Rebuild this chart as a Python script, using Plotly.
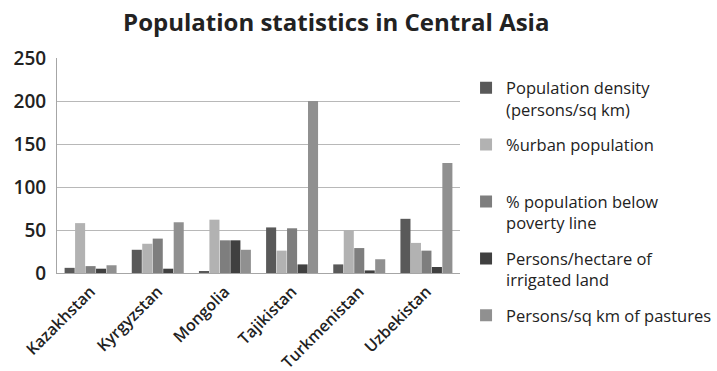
import plotly.graph_objects as go

countries = ["Kazakhstan", "Kyrgyzstan", "Mongolia", "Tajikistan", "Turkmenistan", "Uzbekistan"]
pop_density = [6, 27, 2, 53, 10, 63]
urban_pct = [58, 34, 62, 26, 50, 35]
poverty_pct = [8, 40, 38, 52, 29, 26]
irrigated = [5, 5, 38, 10, 3, 7]
pastures = [9, 59, 27, 200, 16, 128]

series_names = [
    "Population density<br>(persons/sq km)",
    "%urban population<br> ",
    "% population below<br>poverty line",
    "Persons/hectare of<br>irrigated land",
    "Persons/sq km of pastures",
]
series_values = [pop_density, urban_pct, poverty_pct, irrigated, pastures]
colors = ["#595959", "#b2b2b2", "#7e7e7e", "#404040", "#909090"]

FONT = "Open Sans"
TXT = "#222222"

fig = go.Figure()
for i, (name, vals, col) in enumerate(zip(series_names, series_values, colors)):
    fig.add_trace(go.Bar(x=countries, y=vals, name=name, marker_color=col,
                         marker_line_width=0, legendgroup=str(i)))

fig.update_layout(
    width=717, height=371,
    margin=dict(l=57, r=257, t=58, b=98, autoexpand=False),
    paper_bgcolor="white", plot_bgcolor="white",
    title=dict(text="<b>Population statistics in Central Asia</b>", x=0.469, xanchor="center",
               xref="container", yref="container",
               y=0.94, yanchor="middle", font=dict(family=FONT, size=24, color=TXT)),
    barmode="group", bargap=0.22, bargroupgap=0.04,
    font=dict(family=FONT, color=TXT),
    showlegend=True,
    legend=dict(x=0.65, xanchor="left", y=0.81, yanchor="top",
                xref="container", yref="container", maxheight=1,
                font=dict(family=FONT, size=16.5, color=TXT),
                tracegroupgap=11, itemwidth=30,
                traceorder="grouped", valign="top"),
    xaxis=dict(tickangle=-45, tickfont=dict(size=16, weight=600), showline=True, linecolor="#a6a6a6",
               linewidth=1, ticks="", showgrid=False, automargin=False, ticklabelstandoff=2),
    yaxis=dict(range=[0, 250], dtick=50, tickfont=dict(size=19, weight=600), showgrid=True,
               gridcolor="#b8b8b8", gridwidth=1, showline=True, linecolor="#a6a6a6",
               ticks="", zeroline=False, ticklabelstandoff=6, automargin=False),
)

fig.write_html("out.html")
